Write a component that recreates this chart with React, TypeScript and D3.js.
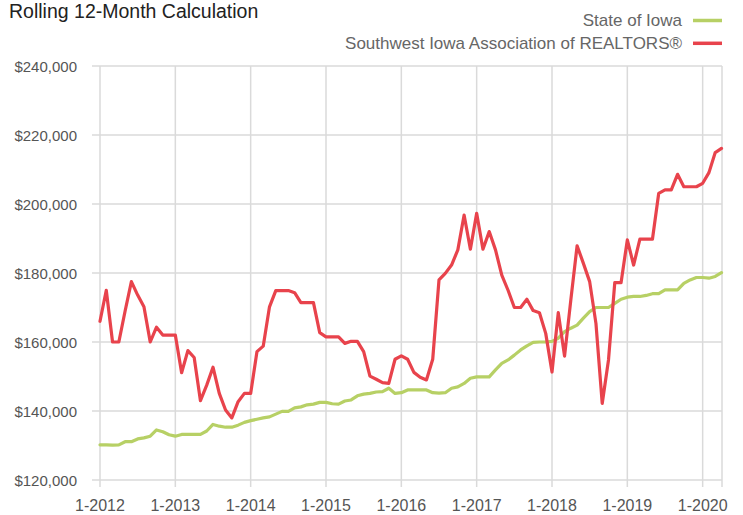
import React, { useEffect } from "react";
import * as d3 from "d3";

const yearLabels = ["1-2012", "1-2013", "1-2014", "1-2015", "1-2016", "1-2017", "1-2018", "1-2019", "1-2020"];
const yTicks = [120000, 140000, 160000, 180000, 200000, 220000, 240000];

// Monthly rolling 12-month median sale price, 1-2012 .. 4-2020 (thousands)
const stateOfIowa = [
  130.2, 130.2, 130.1, 130.2, 131.1, 131.1, 131.9, 132.2, 132.7, 134.5, 134.0, 133.1,
  132.7, 133.2, 133.2, 133.2, 133.2, 134.2, 136.1, 135.6, 135.3, 135.3, 135.9, 136.7,
  137.2, 137.6, 138.0, 138.3, 139.1, 139.9, 139.9, 140.9, 141.2, 141.8, 142.0, 142.5,
  142.5, 142.1, 142.0, 142.9, 143.2, 144.4, 144.9, 145.1, 145.5, 145.6, 146.6, 145.1,
  145.3, 146.1, 146.1, 146.1, 146.1, 145.3, 145.2, 145.3, 146.6, 147.0, 148.0, 149.5,
  149.9, 149.9, 149.9, 151.9, 153.8, 154.8, 156.2, 157.7, 158.9, 159.9, 160.0, 160.0,
  160.2, 161.1, 163.0, 164.0, 164.9, 166.9, 168.8, 170.0, 170.0, 170.0, 171.2, 172.4,
  173.0, 173.2, 173.2, 173.5, 174.0, 174.0, 175.1, 175.1, 175.1, 177.0, 178.0, 178.7,
  178.7, 178.5, 179.0, 180.1,
];

const southwestIowa = [
  166.0, 175.0, 160.0, 160.0, 169.0, 177.5, 173.6, 170.2, 160.0, 164.3, 162.0, 162.0,
  162.0, 151.1, 157.5, 155.5, 143.0, 147.5, 152.7, 145.1, 140.3, 138.0, 142.7, 145.1,
  145.1, 157.2, 158.8, 170.2, 174.9, 174.9, 174.9, 174.3, 171.4, 171.4, 171.4, 162.7,
  161.5, 161.5, 161.5, 159.6, 160.2, 160.2, 157.2, 150.1, 149.2, 148.2, 148.0, 155.0,
  156.0, 155.0, 151.2, 149.8, 149.0, 155.0, 178.0, 179.9, 182.3, 186.7, 196.8, 186.9,
  197.3, 186.9, 192.0, 186.7, 179.4, 175.0, 170.0, 170.0, 172.4, 169.1, 168.5, 162.5,
  151.3, 168.5, 155.9, 172.2, 187.9, 182.8, 177.5, 165.4, 142.2, 154.8, 177.2, 177.2,
  189.6, 182.3, 189.8, 189.8, 189.8, 203.1, 204.1, 204.1, 208.6, 205.0, 205.0, 205.0,
  206.0, 209.1, 214.9, 216.1,
];

const seriesNames = ["State of Iowa", "Southwest Iowa Association of REALTORS®"];
const seriesColors = ["#b7d065", "#e8434c"];

const W = 743;
const H = 515;
const FONT = "'Liberation Sans', Arial, sans-serif";

export default function App() {
  useEffect(() => {
    document.body.style.margin = "0";
  }, []);

  const x = d3.scaleLinear().domain([0, stateOfIowa.length - 1]).range([100, 721.5]);
  const y = d3.scaleLinear().domain([120000, 240000]).range([480, 66]);
  const left = 92;
  const right = 722;

  const line = d3
    .line<number>()
    .x((_, i) => x(i))
    .y((d) => y(d * 1000));

  const fmt = (v: number) => "$" + d3.format(",")(v);
  const series = [stateOfIowa, southwestIowa];

  return (
    <svg width={W} height={H} style={{ display: "block", background: "#fff" }} fontFamily={FONT}>
      {/* horizontal grid */}
      {yTicks.map((t) => (
        <line key={"h" + t} x1={left} x2={right} y1={y(t)} y2={y(t)} stroke="#dadada" strokeWidth={1.5} />
      ))}
      {/* vertical grid */}
      {yearLabels.map((lab, i) => (
        <line key={"v" + lab} x1={x(i * 12)} x2={x(i * 12)} y1={y(240000)} y2={487} stroke="#dadada" strokeWidth={1.5} />
      ))}
      <line x1={right} x2={right} y1={y(240000)} y2={487} stroke="#dadada" strokeWidth={1.5} />

      {/* y labels */}
      {yTicks.map((t) => (
        <text key={"yl" + t} x={77} y={y(t) + 6} textAnchor="end" fontSize={15} fill="#555">
          {fmt(t)}
        </text>
      ))}
      {/* x labels */}
      {yearLabels.map((lab, i) => (
        <text key={"xl" + lab} x={x(i * 12)} y={511} textAnchor="middle" fontSize={16} fill="#555">
          {lab}
        </text>
      ))}

      {/* lines */}
      {series.map((s, i) => (
        <path
          key={"s" + i}
          d={line(s) || ""}
          fill="none"
          stroke={seriesColors[i]}
          strokeWidth={3.2}
          strokeLinejoin="round"
          strokeLinecap="round"
        />
      ))}

      {/* title */}
      <text x={9} y={18} fontSize={19.5} fill="#222">
        Rolling 12-Month Calculation
      </text>

      {/* legend */}
      {seriesNames.map((n, i) => (
        <g key={"lg" + i}>
          <text x={682} y={26 + i * 22.5} textAnchor="end" fontSize={17} fill="#666">
            {n}
          </text>
          <line x1={693} x2={722} y1={20.5 + i * 22.8} y2={20.5 + i * 22.8} stroke={seriesColors[i]} strokeWidth={3.5} />
        </g>
      ))}
    </svg>
  );
}
